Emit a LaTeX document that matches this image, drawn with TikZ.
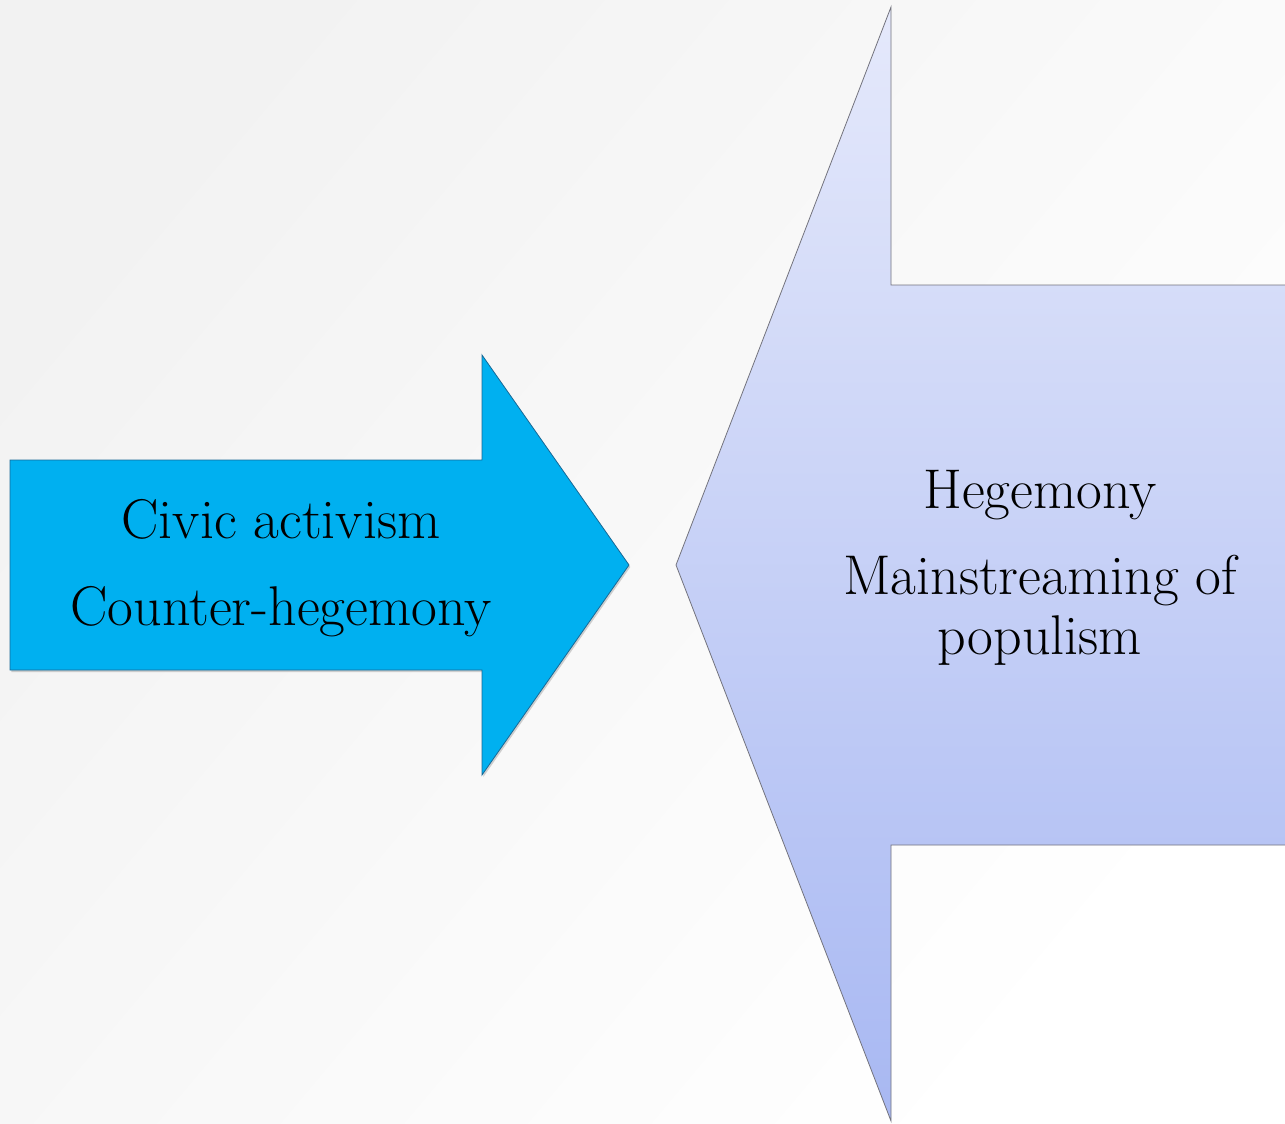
\documentclass[tikz,border=0pt]{standalone}
\usepackage{tikz}
\usetikzlibrary{shadows}
\usepackage{xcolor}

\definecolor{civicblue}{RGB}{0,176,240}
\definecolor{civicline}{RGB}{25,105,150}
\definecolor{hegtop}{RGB}{229,233,251}
\definecolor{hegbottom}{RGB}{168,184,242}
\definecolor{hegline}{RGB}{115,115,125}

\tikzset{
  arrowtext/.style={anchor=base, inner sep=0.75pt, font=\fontsize{42}{50}\selectfont},
}

\begin{document}
\begin{tikzpicture}[x=0.75pt,y=0.75pt,yscale=-1]
        \useasboundingbox (0,0) rectangle (1285,1124);

        %Background [id:bg]
        \begin{scope}
        \clip (0,0) rectangle (1285,1124);
        \shade[top color=black!5, bottom color=white, shading angle=50] (0,0) rectangle (1285,1124);
        \end{scope}

        %Shape: Right Arrow [id:civic]
        \draw[color=civicline, line width=0.6pt, fill=civicblue, drop shadow={shadow xshift=1pt, shadow yshift=-1.5pt, opacity=0.35}]
            (10,460) -- (482,460) -- (482,355) -- (629,565) -- (482,775) -- (482,670) -- (10,670) -- cycle ;

        %Shape: Left Arrow [id:hegemony]
        \draw[color=hegline, line width=0.6pt, top color=hegtop, bottom color=hegbottom]
            (1285,285) -- (891,285) -- (891,7) -- (676,565) -- (891,1121) -- (891,845) -- (1285,845) ;

        % Text Node
        \node[arrowtext] (civic) at (281,538) {Civic activism};
        % Text Node
        \node[arrowtext] (counter) at (281,625) {Counter-hegemony};
        % Text Node
        \node[arrowtext] (hegemony) at (1040,508) {Hegemony};
        % Text Node
        \node[arrowtext] (mainstream) at (1040,594) {Mainstreaming of};
        % Text Node
        \node[arrowtext] (populism) at (1040,654) {populism};

\end{tikzpicture}
\end{document}
